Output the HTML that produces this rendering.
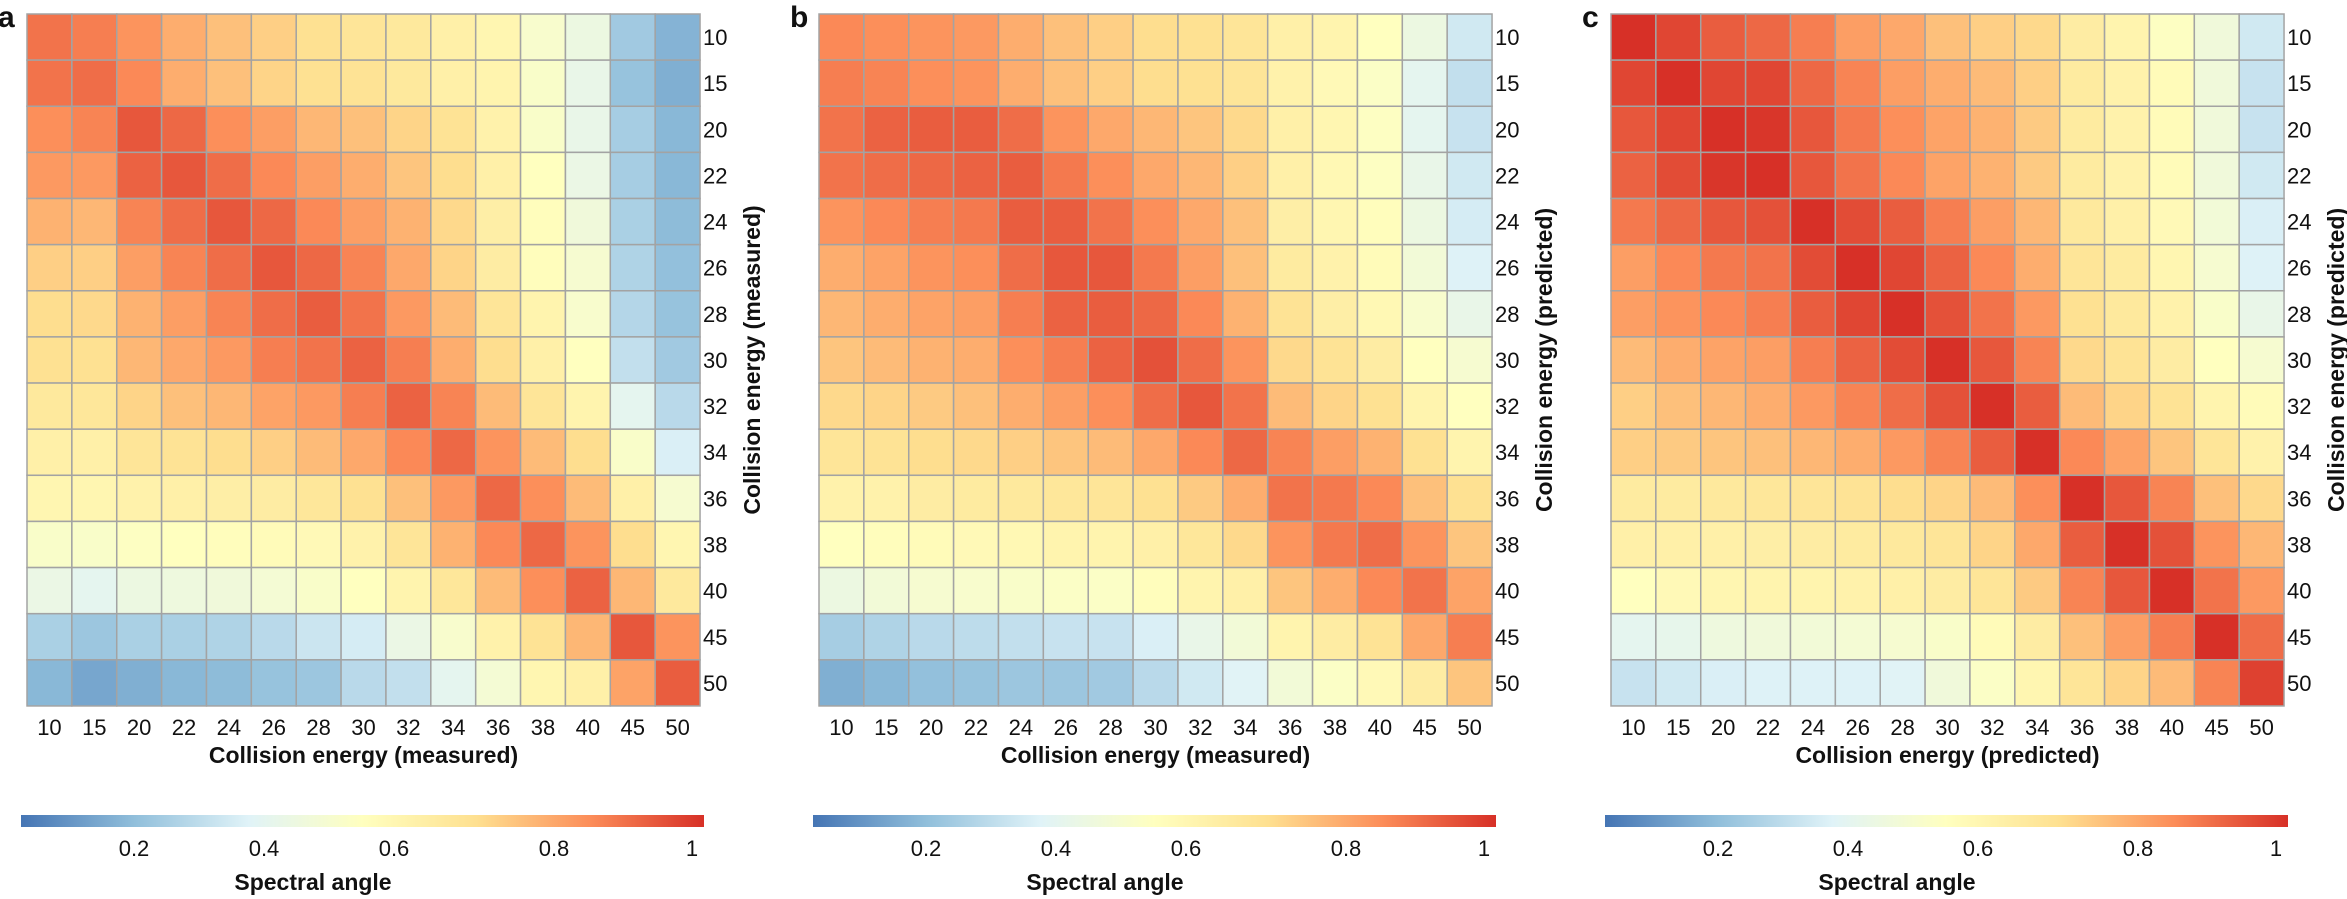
<!DOCTYPE html>
<html><head><meta charset="utf-8"><style>
html,body{margin:0;padding:0;background:#fff;}
svg{display:block;font-family:"Liberation Sans",Arial,sans-serif;}
</style></head><body>
<svg id="s" width="2347" height="899" xmlns="http://www.w3.org/2000/svg">
<defs>
<linearGradient id="cb" x1="0" x2="1" y1="0" y2="0">
<stop offset="0" stop-color="#4575B4"/><stop offset="0.1667" stop-color="#91BFDB"/><stop offset="0.3333" stop-color="#E0F3F8"/><stop offset="0.5" stop-color="#FFFFBF"/><stop offset="0.6667" stop-color="#FEE090"/><stop offset="0.8333" stop-color="#FC8D59"/><stop offset="1" stop-color="#D73027"/>
</linearGradient>
</defs>
</svg>
<script>
var A=[[.88,.86,.82,.77,.73,.70,.66,.64,.62,.58,.55,.46,.40,.20,.14],
[.88,.89,.84,.77,.73,.69,.66,.65,.62,.58,.56,.47,.38,.18,.13],
[.83,.85,.93,.90,.83,.80,.75,.73,.69,.65,.57,.47,.38,.21,.15],
[.81,.81,.91,.93,.89,.84,.80,.77,.72,.67,.58,.50,.39,.21,.15],
[.76,.75,.85,.89,.93,.90,.84,.80,.76,.68,.59,.51,.42,.22,.16],
[.70,.70,.80,.85,.89,.93,.90,.85,.78,.69,.60,.51,.45,.23,.17],
[.67,.68,.76,.80,.85,.89,.92,.88,.81,.74,.64,.56,.46,.24,.18],
[.66,.66,.75,.78,.81,.86,.88,.91,.86,.77,.67,.58,.50,.27,.20],
[.62,.63,.69,.73,.75,.79,.81,.86,.91,.85,.74,.64,.56,.36,.25],
[.58,.58,.64,.65,.67,.70,.74,.78,.84,.90,.82,.74,.67,.47,.32],
[.55,.55,.57,.58,.59,.60,.63,.66,.73,.81,.90,.83,.74,.58,.45],
[.47,.47,.49,.50,.51,.52,.53,.57,.64,.76,.84,.90,.82,.67,.55],
[.39,.36,.40,.41,.42,.44,.47,.50,.56,.63,.74,.83,.91,.75,.62],
[.22,.19,.22,.22,.23,.25,.29,.31,.39,.46,.57,.65,.75,.93,.82],
[.15,.11,.13,.15,.16,.18,.19,.25,.27,.36,.44,.55,.58,.79,.92]];
var B=[[.84,.83,.82,.81,.77,.73,.70,.67,.66,.64,.58,.56,.50,.40,.30],
[.86,.85,.83,.82,.77,.73,.70,.67,.66,.64,.57,.53,.48,.36,.27],
[.88,.91,.92,.92,.89,.82,.78,.75,.72,.68,.58,.55,.49,.36,.28],
[.88,.89,.90,.91,.92,.87,.83,.78,.75,.70,.58,.54,.49,.38,.30],
[.82,.84,.86,.87,.92,.92,.88,.83,.78,.73,.59,.55,.51,.40,.31],
[.77,.79,.82,.83,.89,.93,.93,.87,.80,.73,.61,.57,.52,.43,.33],
[.75,.77,.79,.80,.86,.91,.92,.90,.84,.76,.65,.59,.54,.46,.38],
[.72,.74,.76,.77,.83,.86,.91,.94,.89,.82,.68,.65,.60,.50,.45],
[.68,.69,.71,.73,.77,.80,.83,.89,.93,.88,.74,.69,.66,.56,.50],
[.64,.65,.67,.68,.70,.72,.74,.78,.84,.90,.85,.80,.76,.66,.56],
[.57,.57,.60,.61,.62,.63,.64,.66,.71,.77,.88,.87,.84,.73,.66],
[.50,.51,.52,.53,.54,.56,.56,.58,.63,.68,.82,.87,.89,.82,.72],
[.40,.43,.45,.46,.47,.48,.48,.51,.56,.58,.72,.77,.84,.88,.79],
[.21,.23,.25,.26,.27,.28,.28,.32,.38,.43,.56,.60,.65,.78,.86],
[.13,.15,.17,.18,.19,.19,.20,.25,.30,.34,.43,.48,.53,.60,.72]];
var C=[[1,.96,.92,.90,.86,.80,.78,.73,.70,.68,.60,.56,.49,.42,.30],
[.96,1,.96,.96,.90,.85,.80,.77,.74,.70,.61,.57,.52,.42,.28],
[.93,.96,1,.99,.93,.87,.83,.79,.76,.71,.61,.57,.52,.42,.28],
[.91,.95,.99,1,.93,.88,.84,.79,.76,.71,.61,.57,.52,.42,.30],
[.87,.90,.93,.94,1,.95,.92,.86,.80,.75,.62,.58,.53,.43,.32],
[.80,.84,.87,.88,.95,1,.96,.91,.84,.77,.64,.61,.55,.45,.33],
[.80,.82,.84,.86,.92,.96,1,.94,.88,.81,.66,.62,.57,.47,.38],
[.74,.77,.79,.80,.86,.91,.95,1,.93,.85,.68,.65,.60,.50,.45],
[.70,.73,.75,.77,.81,.85,.89,.94,1,.92,.74,.69,.65,.56,.52],
[.70,.71,.72,.73,.75,.77,.81,.85,.92,1,.84,.79,.72,.64,.57],
[.61,.61,.62,.63,.64,.65,.67,.69,.74,.83,1,.93,.85,.73,.68],
[.58,.58,.58,.59,.60,.61,.62,.64,.69,.78,.92,1,.94,.82,.75],
[.50,.53,.55,.56,.56,.57,.58,.60,.64,.71,.85,.93,1,.88,.81],
[.36,.37,.41,.42,.43,.44,.45,.47,.52,.60,.73,.80,.86,1,.89],
[.28,.30,.32,.33,.33,.33,.34,.42,.48,.55,.64,.69,.74,.85,.97]];
var stops=[[0x45,0x75,0xB4],[0x91,0xBF,0xDB],[0xE0,0xF3,0xF8],[0xFF,0xFF,0xBF],[0xFE,0xE0,0x90],[0xFC,0x8D,0x59],[0xD7,0x30,0x27]];
function col(v){v=Math.max(0,Math.min(1,v));var t=v*6,i=Math.min(5,Math.floor(t)),f=t-i,a=stops[i],b=stops[i+1];
return "rgb("+[0,1,2].map(function(k){return Math.round(a[k]+(b[k]-a[k])*f)}).join(",")+")";}
var labs=["10","15","20","22","24","26","28","30","32","34","36","38","40","45","50"];
var panels=[[A,"a","Collision energy (measured)","Collision energy (measured)"],[B,"b","Collision energy (measured)","Collision energy (predicted)"],[C,"c","Collision energy (predicted)","Collision energy (predicted)"]];
var h="";var W=44.87,H=46.13,Y0=14;
panels.forEach(function(p,pi){var X0=27+792*pi;var M=p[0];
for(var r=0;r<15;r++)for(var c=0;c<15;c++){h+='<rect x="'+(X0+c*W).toFixed(2)+'" y="'+(Y0+r*H).toFixed(2)+'" width="'+W.toFixed(2)+'" height="'+H.toFixed(2)+'" fill="'+col(M[r][c])+'" stroke="#a3a3a3" stroke-width="1.5"/>';}
var R=X0+15*W;
for(var i=0;i<15;i++){h+='<text x="'+(R+3)+'" y="'+(Y0+i*H+H/2+8)+'" font-size="22" fill="#111">'+labs[i]+'</text>';
h+='<text x="'+(X0+i*W+W/2)+'" y="735" font-size="22" fill="#111" text-anchor="middle">'+labs[i]+'</text>';}
h+='<text x="'+(X0+7.5*W)+'" y="763" font-size="23" font-weight="bold" fill="#111" text-anchor="middle">'+p[2]+'</text>';
var tx=R+60,ty=Y0+7.5*H;
h+='<text transform="translate('+tx+','+ty+') rotate(-90)" font-size="23" font-weight="bold" fill="#111" text-anchor="middle">'+p[3]+'</text>';
h+='<text x="'+(X0-29)+'" y="27" font-size="30" font-weight="bold" fill="#111">'+p[1]+'</text>';
var cx=X0-6;
h+='<rect x="'+cx+'" y="815" width="683" height="12" fill="url(#cb)"/>';
[["0.2",107],["0.4",237],["0.6",367],["0.8",527],["1",665]].forEach(function(t){h+='<text x="'+(X0+t[1])+'" y="856" font-size="22" fill="#111" text-anchor="middle">'+t[0]+'</text>';});
h+='<text x="'+(X0+286)+'" y="890" font-size="23" font-weight="bold" fill="#111" text-anchor="middle">Spectral angle</text>';
});
document.getElementById("s").insertAdjacentHTML("beforeend",h);
</script>
</body></html>
